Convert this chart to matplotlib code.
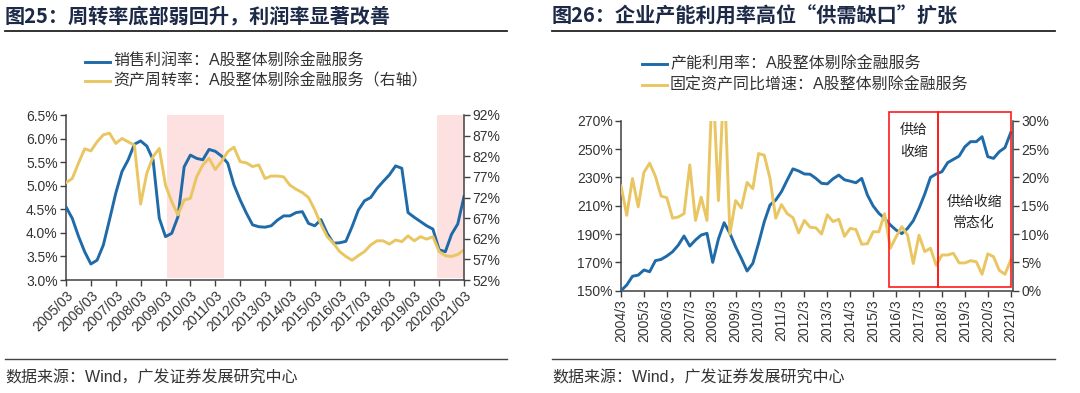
import matplotlib
matplotlib.use('Agg')
import matplotlib.pyplot as plt
import matplotlib.transforms as mtransforms
from matplotlib.lines import Line2D
from matplotlib.patches import Rectangle
import numpy as np

plt.rcParams['font.family'] = ['Liberation Sans', 'Noto Sans CJK SC', 'DejaVu Sans']

# Fig 25: quarterly, 2005Q1 .. 2021Q1
margin = [4.55, 4.31, 3.93, 3.60, 3.34, 3.42, 3.74, 4.28, 4.84, 5.30, 5.55, 5.88,
          5.95, 5.84, 5.55, 4.31, 3.92, 3.99, 4.34, 5.40, 5.65, 5.58, 5.55, 5.77,
          5.73, 5.63, 5.48, 5.02, 4.70, 4.42, 4.17, 4.13, 4.12, 4.15, 4.27, 4.36,
          4.36, 4.43, 4.45, 4.20, 4.15, 4.28, 3.99, 3.78, 3.79, 3.82, 4.13, 4.48,
          4.68, 4.75, 4.94, 5.09, 5.23, 5.42, 5.37, 4.43, 4.33, 4.24, 4.15, 4.08,
          3.64, 3.60, 3.97, 4.19, 4.77]
turnover = [75.6, 76.6, 80.3, 83.8, 83.3, 85.5, 87.2, 87.6, 85.1, 86.3, 85.5, 84.7,
            70.4, 77.9, 81.9, 83.9, 75.0, 71.0, 67.8, 71.4, 71.8, 77.0, 79.9, 81.5,
            78.8, 80.7, 83.1, 84.2, 80.7, 80.4, 79.5, 79.9, 76.6, 77.2, 77.2, 77.0,
            75.0, 74.0, 73.2, 72.0, 69.0, 65.5, 62.5, 60.9, 58.9, 57.7, 56.8, 57.9,
            58.9, 60.5, 61.5, 61.5, 60.7, 61.7, 61.3, 62.7, 61.5, 62.5, 61.9, 62.5,
            58.9, 57.9, 57.7, 58.2, 59.3]
ticks25 = ['2005/03', '2006/03', '2007/03', '2008/03', '2009/03', '2010/03',
           '2011/03', '2012/03', '2013/03', '2014/03', '2015/03', '2016/03',
           '2017/03', '2018/03', '2019/03', '2020/03', '2021/03']
shade25 = [(16.3, 25.4), (59.7, 64.0)]

# Fig 26: quarterly, 2004Q1 .. 2021Q1
capacity = [150.0, 154.0, 160.2, 161.0, 164.6, 163.4, 171.2, 172.1, 174.5, 177.5,
            182.2, 188.6, 181.5, 185.8, 189.3, 190.5, 170.0, 186.5, 198.0, 190.5,
            181.0, 172.8, 163.9, 169.3, 183.4, 198.7, 210.5, 214.0, 219.9, 228.1,
            236.0, 234.5, 232.4, 232.2, 229.3, 225.8, 225.4, 229.0, 231.6, 228.3,
            227.3, 226.2, 229.3, 217.5, 209.8, 204.6, 201.1, 196.4, 192.8, 190.3,
            194.0, 199.4, 208.1, 218.2, 230.0, 232.4, 234.0, 240.4, 242.7, 245.0,
            251.6, 255.2, 255.2, 258.7, 244.6, 243.4, 248.1, 251.0, 261.5]
fixed_yoy = [18.5, 13.3, 19.8, 14.8, 20.9, 22.5, 20.2, 16.7, 16.4, 12.8, 13.0, 13.6,
             22.2, 12.4, 16.5, 12.4, 38.0, 15.9, 38.0, 10.0, 15.9, 14.6, 19.1, 18.0,
             24.2, 23.9, 19.8, 12.8, 15.2, 13.6, 12.9, 10.2, 12.4, 11.2, 11.1, 10.0,
             13.4, 12.2, 12.6, 9.6, 11.0, 10.8, 8.2, 8.3, 10.4, 10.4, 13.6, 7.5,
             9.5, 11.3, 9.8, 4.8, 9.8, 6.9, 7.5, 4.5, 6.3, 6.3, 6.6, 4.9,
             4.9, 5.3, 5.1, 2.9, 6.5, 6.0, 3.6, 2.9, 5.4]
ticks26 = ['2004/3', '2005/3', '2006/3', '2007/3', '2008/3', '2009/3', '2010/3',
           '2011/3', '2012/3', '2013/3', '2014/3', '2015/3', '2016/3', '2017/3',
           '2018/3', '2019/3', '2020/3', '2021/3']
boxes26 = [(46.8, 55.4), (55.4, 68.1)]

BLUE = '#1f6aa8'
YELLOW = '#e9c662'
PINK = '#fde0e0'
NAVY = '#1c2a48'
AXC = '#404040'
TXT = '#333333'
CJK = ['Noto Sans CJK SC', 'DejaVu Sans']


def style(ax, twin):
  for a in (ax, twin):
    a.spines['top'].set_visible(False)
    for s in ('left', 'right', 'bottom'):
      a.spines[s].set_color(AXC)
      a.spines[s].set_linewidth(1.1)
    a.tick_params(direction='out', length=4, width=1, color=AXC,
                  labelsize=10, labelcolor=TXT, pad=2)
  ax.spines['right'].set_visible(False)
  twin.spines['left'].set_visible(False)
  twin.spines['bottom'].set_visible(False)


fig = plt.figure(figsize=(10.8, 3.93), dpi=100)
W, H = 1080.0, 393.0

# ---------- left chart ----------
ax1 = fig.add_axes([66 / W, 1 - 280 / H, 398 / W, 165 / H])
ax1b = ax1.twinx()
x1 = np.arange(len(margin))
for a, b in shade25:
  ax1.axvspan(a, b, ymin=0.015, ymax=1, color=PINK, lw=0, zorder=0)
ax1.plot(x1, margin, color=BLUE, lw=2.1, zorder=3)
ax1b.plot(x1, turnover, color=YELLOW, lw=2.1)
ax1.set_xlim(0, 64)
ax1.set_ylim(3.0, 6.5)
ax1.set_yticks(np.arange(3.0, 6.51, 0.5))
ax1.set_yticklabels(['%.1f%%' % v for v in np.arange(3.0, 6.51, 0.5)])
ax1b.set_ylim(52, 92)
ax1b.set_yticks(np.arange(52, 93, 5))
ax1b.set_yticklabels(['%d%%' % v for v in np.arange(52, 93, 5)])
ax1.set_xticks(np.arange(0, 65, 4))
ax1.set_xticklabels(ticks25, rotation=45, ha='right', rotation_mode='anchor')
style(ax1, ax1b)

# ---------- right chart ----------
ax2 = fig.add_axes([621 / W, 1 - 290.7 / H, 392 / W, 170 / H])
ax2b = ax2.twinx()
x2 = np.arange(len(capacity))
ax2.plot(x2, capacity, color=BLUE, lw=2.1, zorder=3)
ax2b.plot(x2, fixed_yoy, color=YELLOW, lw=2.1)
ax2.set_xlim(0, 68.4)
ax2.set_ylim(150, 270)
ax2.set_yticks(np.arange(150, 271, 20))
ax2.set_yticklabels(['%d%%' % v for v in np.arange(150, 271, 20)])
ax2b.set_ylim(0, 30)
ax2b.set_yticks(np.arange(0, 31, 5))
ax2b.set_yticklabels(['%d%%' % v for v in np.arange(0, 31, 5)])
ax2.set_xticks(np.arange(0, 69, 4))
ax2.set_xticklabels(ticks26, rotation=90)
style(ax2, ax2b)

tr = mtransforms.blended_transform_factory(ax2b.transData, ax2b.transAxes)
for a, b in boxes26:
  ax2b.add_patch(Rectangle((a, 0.02), b - a, 1.03, transform=tr, fill=False,
                           ec='#ff1a1a', lw=1.2, clip_on=False, zorder=5))
ax2b.text(51.1, 0.88, '供给\n收缩', transform=tr, ha='center', va='center',
          fontsize=10, linespacing=1.7, color='#222222', family=CJK)
ax2b.text(61.6, 0.46, '供给收缩\n常态化', transform=tr, ha='center', va='center',
          fontsize=10, linespacing=1.7, color='#222222', family=CJK)

# ---------- titles, legends, footers ----------
def header(x0, x1, title):
  fig.text(x0 / W, 1 - 16 / H, title, fontsize=14.5, weight='bold',
           color=NAVY, va='center', family=CJK)
  fig.add_artist(Line2D([x0 / W, x1 / W], [1 - 31 / H] * 2, color='#222222', lw=1.3))


def footer(x0, x1):
  fig.add_artist(Line2D([x0 / W, x1 / W], [1 - 359 / H] * 2, color='#444444', lw=1.0))
  fig.text(x0 / W, 1 - 378 / H, '数据来源：Wind，广发证券发展研究中心',
           fontsize=11.5, color=TXT, va='center')


def legend(x0, rows, labels):
  for (y, color), lab in zip(rows, labels):
    fig.add_artist(Line2D([x0 / W, (x0 + 25) / W], [1 - y / H] * 2, color=color, lw=2.1))
    fig.text((x0 + 28) / W, 1 - y / H, lab, fontsize=11.5, color=TXT, va='center')


header(5, 507, '图25：周转率底部弱回升，利润率显著改善')
header(552, 1055, '图26：企业产能利用率高位“供需缺口”扩张')
legend(85, [(61.7, BLUE), (81, YELLOW)],
       ['销售利润率：A股整体剔除金融服务', '资产周转率：A股整体剔除金融服务（右轴）'])
legend(642, [(64, BLUE), (85, YELLOW)],
       ['产能利用率：A股整体剔除金融服务', '固定资产同比增速：A股整体剔除金融服务'])
footer(5, 507)
footer(552, 1055)

fig.savefig('out.png', dpi=100)
